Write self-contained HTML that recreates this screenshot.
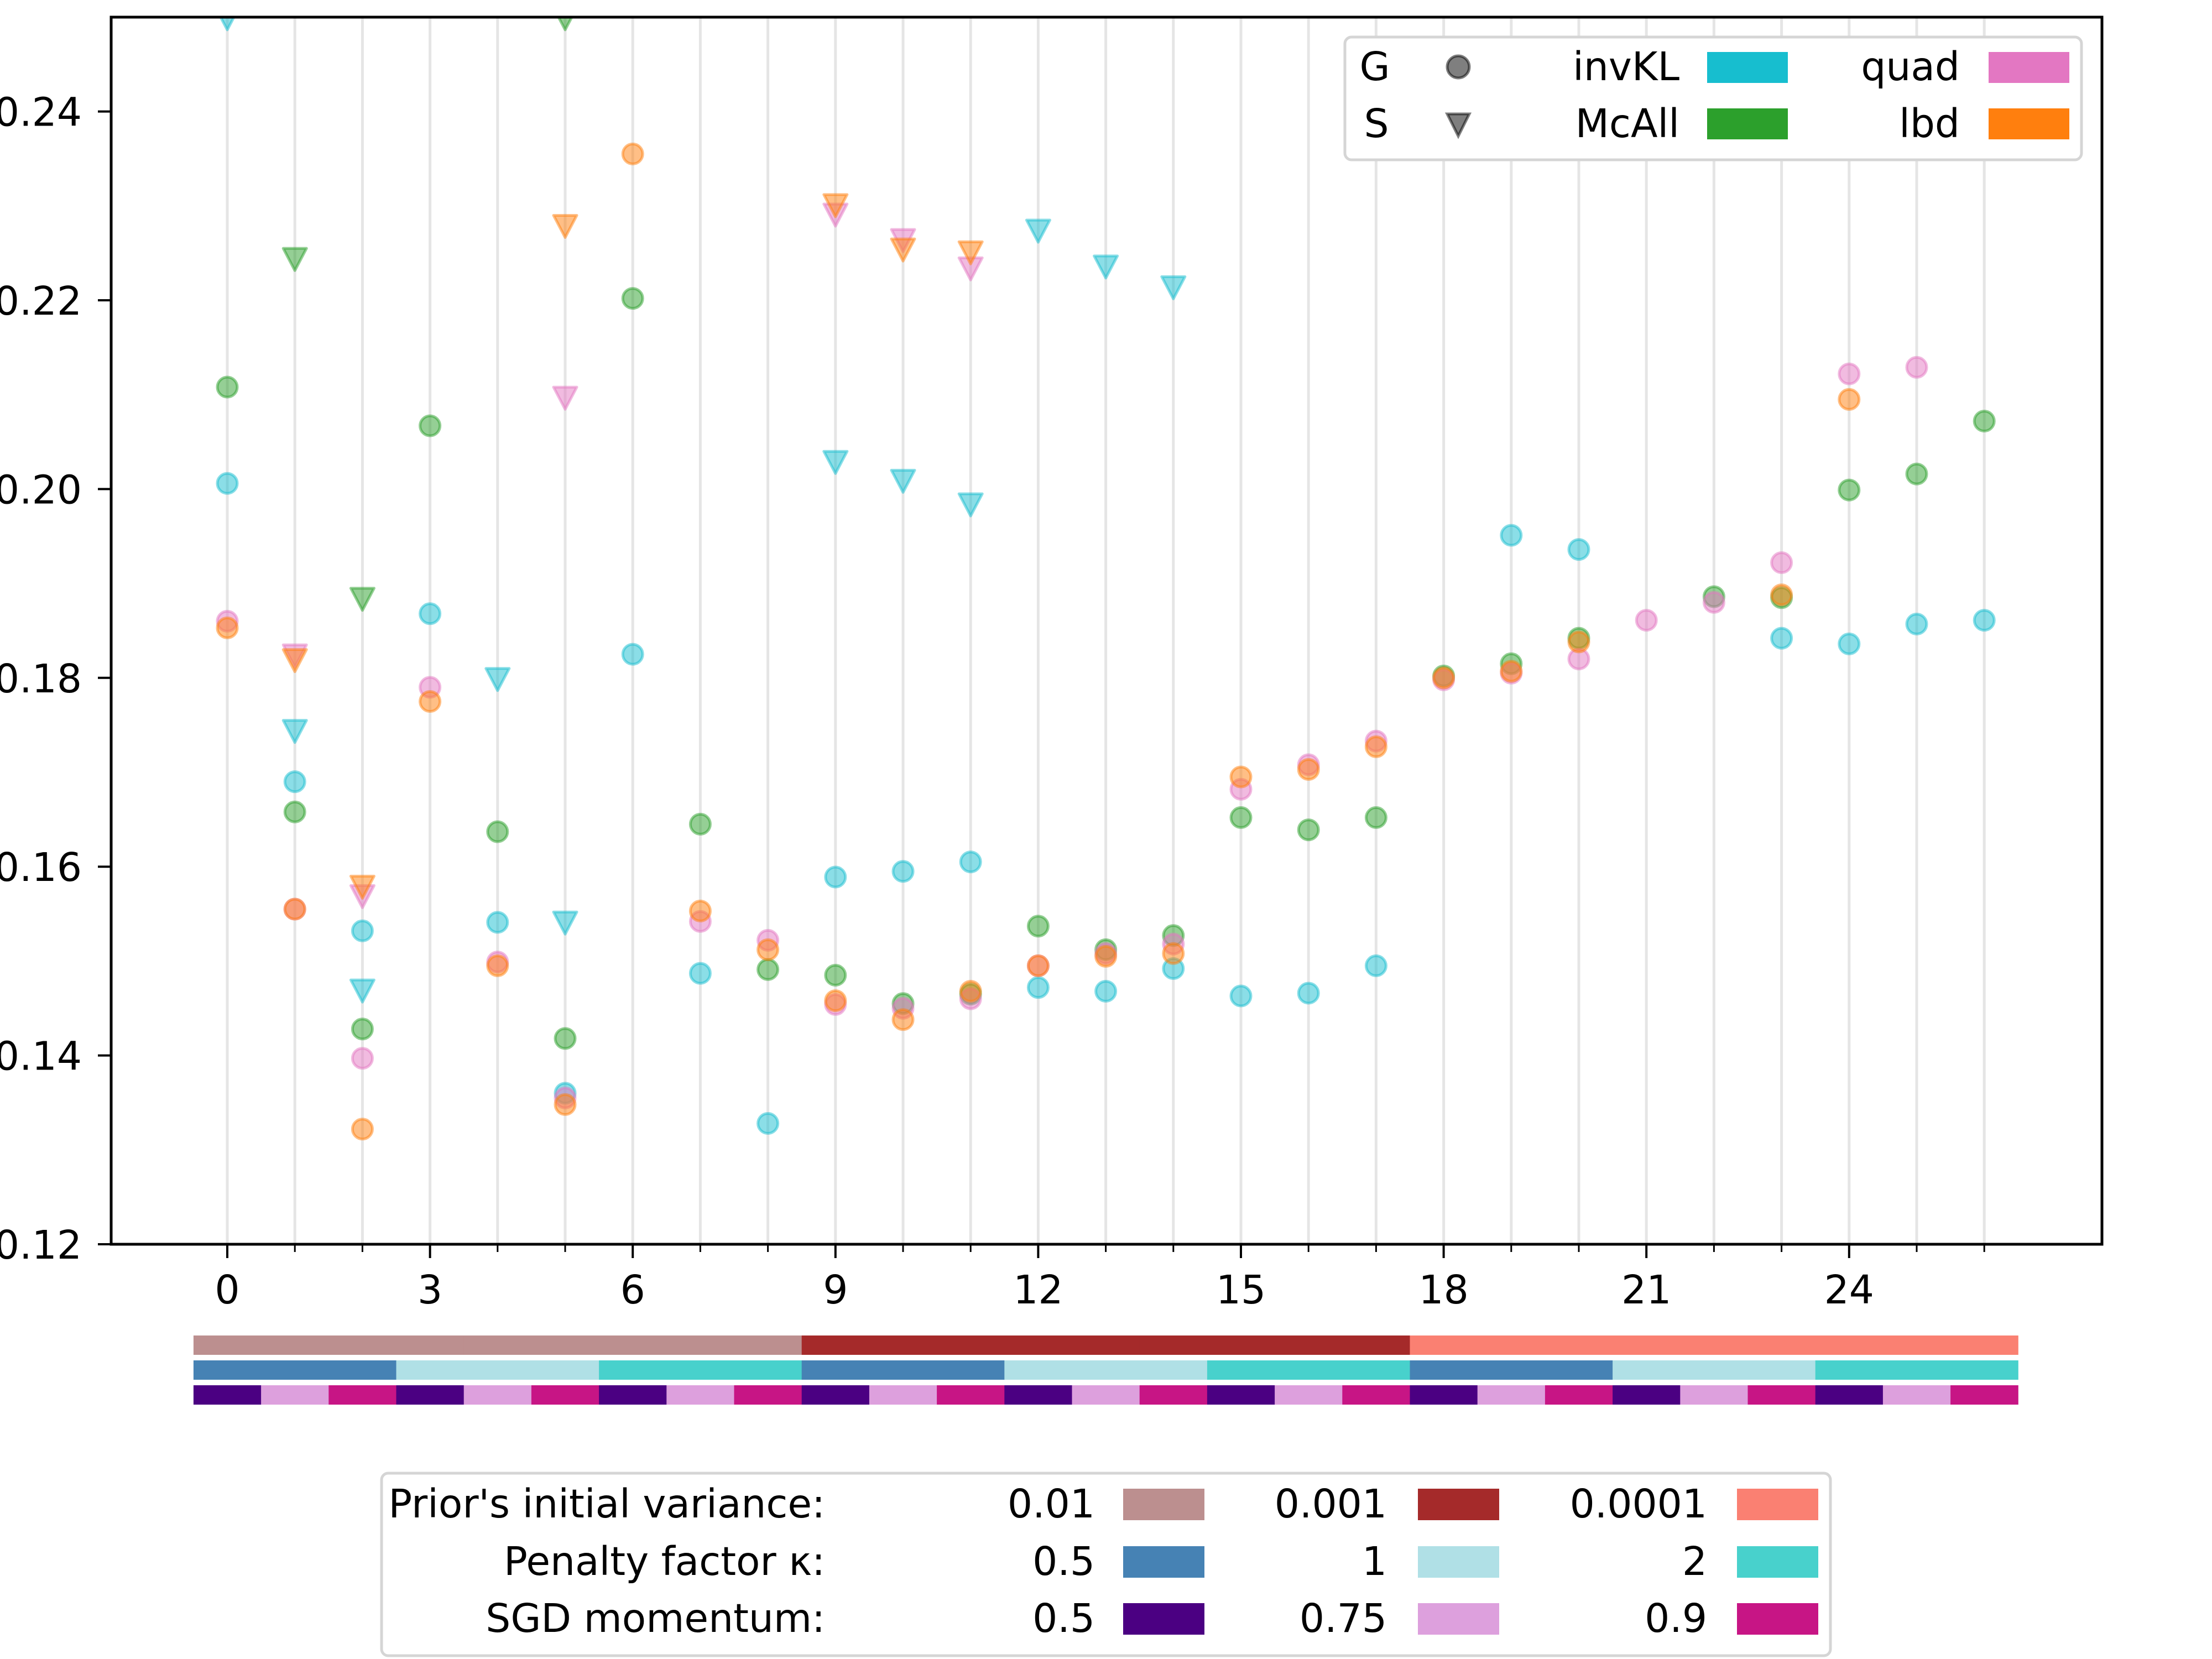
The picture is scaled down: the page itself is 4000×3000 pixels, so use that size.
<!DOCTYPE html>
<html><head><meta charset="utf-8"><style>
html,body{margin:0;padding:0;background:#fff;}
svg{display:block;font-family:"DejaVu Sans","Liberation Sans",sans-serif;}
</style></head><body>
<svg id="chart" width="4000" height="3000" viewBox="0 0 4000 3000" xmlns="http://www.w3.org/2000/svg">
<defs><clipPath id="plotclip"><rect x="201" y="31" width="3600" height="2219"/></clipPath></defs>
<rect x="0" y="0" width="4000" height="3000" fill="#fff"/>
<g id="grid"></g>
<g id="points" clip-path="url(#plotclip)"></g>
<rect x="201" y="31" width="3600" height="2219" fill="none" stroke="#000" stroke-width="5"/>
<g id="xticks"></g>
<g id="yticks"></g>
<g id="bars"></g>

<g>
<rect x="2432" y="67" width="1332" height="222" rx="12" fill="#fff" stroke="#d5d5d5" stroke-width="5"/>
<text x="2486" y="145" font-size="71" text-anchor="middle">G</text>
<circle cx="2637" cy="121" r="20" fill="#000" fill-opacity="0.5" stroke="#000" stroke-opacity="0.5" stroke-width="5"/>
<text x="2489" y="248" font-size="71" text-anchor="middle">S</text>
<path d="M2617 206 L2657 206 L2637 246 Z" fill="#000" fill-opacity="0.5" stroke="#000" stroke-opacity="0.5" stroke-width="5"/>
<text x="3037" y="145" font-size="71" text-anchor="end">invKL</text>
<rect x="3087" y="94" width="146" height="56" fill="#17becf"/>
<text x="3037" y="248" font-size="71" text-anchor="end">McAll</text>
<rect x="3087" y="196" width="146" height="56" fill="#2ca02c"/>
<text x="3544" y="145" font-size="71" text-anchor="end">quad</text>
<rect x="3596" y="94" width="146" height="56" fill="#e377c2"/>
<text x="3544" y="248" font-size="71" text-anchor="end">lbd</text>
<rect x="3596" y="196" width="146" height="56" fill="#ff7f0e"/>
</g>

<g>
<rect x="690" y="2664" width="2620" height="330" rx="12" fill="#fff" stroke="#d5d5d5" stroke-width="5"/>
<g font-size="71" text-anchor="end">
<text x="1492" y="2744">Prior's initial variance:</text>
<text x="1492" y="2848">Penalty factor κ:</text>
<text x="1492" y="2951">SGD momentum:</text>
<text x="1980" y="2744">0.01</text>
<text x="2508" y="2744">0.001</text>
<text x="3087" y="2744">0.0001</text>
<text x="1980" y="2848">0.5</text>
<text x="2508" y="2848">1</text>
<text x="3087" y="2848">2</text>
<text x="1980" y="2951">0.5</text>
<text x="2508" y="2951">0.75</text>
<text x="3087" y="2951">0.9</text>
</g>
<rect x="2031" y="2692" width="147" height="57" fill="#bc8f8f"/>
<rect x="2564" y="2692" width="147" height="57" fill="#a52a2a"/>
<rect x="3141" y="2692" width="147" height="57" fill="#fa8072"/>
<rect x="2031" y="2796" width="147" height="57" fill="#4682b4"/>
<rect x="2564" y="2796" width="147" height="57" fill="#b0e0e6"/>
<rect x="3141" y="2796" width="147" height="57" fill="#48d1cc"/>
<rect x="2031" y="2899" width="147" height="57" fill="#4b0082"/>
<rect x="2564" y="2899" width="147" height="57" fill="#dda0dd"/>
<rect x="3141" y="2899" width="147" height="57" fill="#c71585"/>
</g>
</svg>
<script>
const N_CONFIGS = 27;
const xTickValues = [0,3,6,9,12,15,18,21,24];
const yTickValues = [0.12,0.14,0.16,0.18,0.20,0.22,0.24];
const yTickLabels = ["0.12","0.14","0.16","0.18","0.20","0.22","0.24"];
// G (circle) series, index = config
const invKL_G = [0.2006,0.169,0.1532,0.1868,0.1541,0.136,0.1825,0.1487,0.1328,0.1589,0.1595,0.1605,0.1472,0.1468,0.1492,0.1463,0.1466,0.1495,null,0.1951,0.1936,null,null,0.1842,0.1836,0.1857,0.1861];
const McAll_G = [0.2108,0.1658,0.1428,0.2067,0.1637,0.1418,0.2202,0.1645,0.1491,0.1485,0.1455,0.1465,0.1537,0.1512,0.1527,0.1652,0.1639,0.1652,0.1802,0.1815,0.1842,null,0.1886,0.1885,0.1999,0.2016,0.2072];
const quad_G = [0.186,0.1555,0.1397,0.179,0.1499,0.1355,null,0.1542,0.1522,0.1454,0.145,0.146,0.1495,0.1508,0.1518,0.1682,0.1708,0.1733,0.1798,0.1805,0.182,0.1861,0.188,0.1922,0.2122,0.2129,null];
const lbd_G = [0.1853,0.1555,0.1322,0.1775,0.1495,0.1348,0.2355,0.1553,0.1512,0.1458,0.1438,0.1468,0.1495,0.1505,0.1508,0.1695,0.1703,0.1727,0.18,0.1807,0.1838,null,null,0.1888,0.2095,null,null];
// S (triangle) series
const invKL_S = [0.25,0.1745,0.147,null,0.18,0.1542,null,null,null,0.203,0.201,0.1985,0.2275,0.2237,0.2215];
const McAll_S = [null,0.2245,0.1885,null,null,0.25,null,null,null,null,null,null,null,null,null];
const quad_S = [null,0.1825,0.157,null,null,0.2098,null,null,null,0.2292,0.2265,0.2235,null,null,null];
const lbd_S = [null,0.182,0.158,null,null,0.228,null,null,null,0.2302,0.2255,0.2252,null,null,null];
const priorColors = ["#bc8f8f","#a52a2a","#fa8072"];
const penaltyColors = ["#4682b4","#b0e0e6","#48d1cc"];
const momentumColors = ["#4b0082","#dda0dd","#c71585"];

const NS = "http://www.w3.org/2000/svg";
const X0 = 411, XU = 122.2, YB = 2250, YS = 17070;
function xs(v){ return X0 + v*XU; }
function ys(v){ return YB - (v-0.12)*YS; }
function mk(tag, attrs, parent){ const e=document.createElementNS(NS,tag); for(const k in attrs) e.setAttribute(k,attrs[k]); parent.appendChild(e); return e; }

const grid = document.getElementById('grid');
for(let i=0;i<N_CONFIGS;i++){
  const l = mk('line',{x1:xs(i),x2:xs(i),y1:31,y2:2250,stroke:'#e5e5e5','stroke-width':5},grid);
  
  
}
const xt = document.getElementById('xticks');
for(let i=0;i<N_CONFIGS;i++){
  const major = xTickValues.includes(i);
  const t = mk('line',{x1:xs(i),x2:xs(i),y1:2250,y2:major?2275:2264,stroke:'#000','stroke-width':major?4:3},xt);
  
  
}
xTickValues.forEach(v=>{
  const t = mk('text',{x:xs(v),y:2357,'font-size':71,'text-anchor':'middle'},xt);
  t.textContent = String(v);
  
  
});
const yt = document.getElementById('yticks');
yTickValues.forEach((v,i)=>{
  const l = mk('line',{x1:177,x2:201,y1:ys(v),y2:ys(v),stroke:'#000','stroke-width':4},yt);
  
  
  const t = mk('text',{x:148,y:ys(v)+26,'font-size':71,'text-anchor':'end'},yt);
  t.textContent = yTickLabels[i];
  
  
});

const pts = document.getElementById('points');
function drawSeries(arr,color,shape,name){
  arr.forEach((v,i)=>{
    if(v===null) return;
    const cx=xs(i), cy=ys(v);
    let e;
    if(shape==='o'){
      e = mk('circle',{cx:cx,cy:cy,r:18},pts);
    } else {
      e = mk('path',{d:`M${cx-21} ${cy-17} L${cx+21} ${cy-17} L${cx} ${cy+23} Z`,'stroke-linejoin':'round'},pts);
    }
    e.setAttribute('fill',color); e.setAttribute('fill-opacity','0.5');
    e.setAttribute('stroke',color); e.setAttribute('stroke-opacity','0.5'); e.setAttribute('stroke-width','5');
    
    
  });
}
drawSeries(invKL_G,'#17becf','o','point-invkl-g');
drawSeries(McAll_G,'#2ca02c','o','point-mcall-g');
drawSeries(quad_G,'#e377c2','o','point-quad-g');
drawSeries(lbd_G,'#ff7f0e','o','point-lbd-g');
drawSeries(invKL_S,'#17becf','v','point-invkl-s');
drawSeries(McAll_S,'#2ca02c','v','point-mcall-s');
drawSeries(quad_S,'#e377c2','v','point-quad-s');
drawSeries(lbd_S,'#ff7f0e','v','point-lbd-s');

const bars = document.getElementById('bars');
for(let i=0;i<N_CONFIGS;i++){
  const x = xs(i-0.5), w = XU+0.5;
  const a = mk('rect',{x:x,y:2415,width:w,height:35,fill:priorColors[Math.floor(i/9)]},bars);
  
  
  const b = mk('rect',{x:x,y:2460,width:w,height:35,fill:penaltyColors[Math.floor(i/3)%3]},bars);
  
  
  const c = mk('rect',{x:x,y:2505,width:w,height:35,fill:momentumColors[i%3]},bars);
  
  
}
</script>
</body></html>
